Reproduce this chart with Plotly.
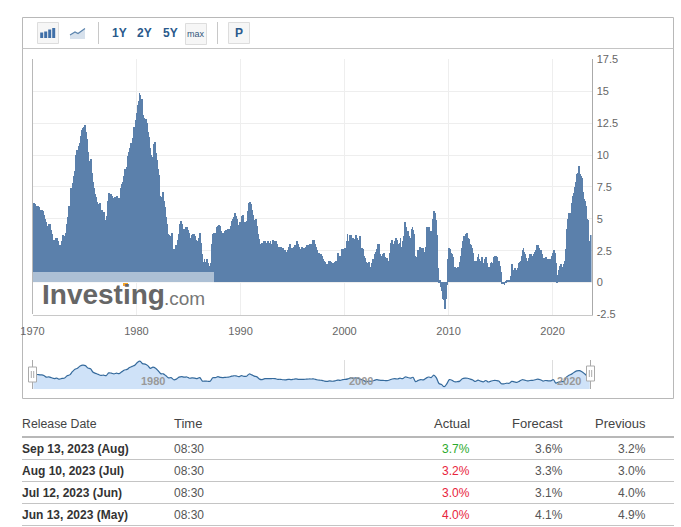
import plotly.graph_objects as go
import pandas as pd

W, H = 681, 527
FONT = "Liberation Sans"

# US CPI y/y (%), one value per monthly release
cpi_values = [
 6.2,6.1,5.8,6.0,6.0,6.0,5.9,5.4,5.7,5.7,5.6,5.6,
 5.3,5.0,4.7,4.2,4.4,4.6,4.4,4.6,4.1,3.8,3.3,3.3,
 3.3,3.5,3.5,3.5,3.2,2.7,2.9,2.9,3.2,3.4,3.7,3.4,
 3.6,3.9,4.6,5.1,5.5,6.0,5.7,7.4,7.4,7.8,8.3,8.7,
 9.4,10.0,10.4,10.1,10.7,10.9,11.5,10.9,11.9,12.1,12.2,12.3,
 11.8,11.2,10.3,10.2,9.5,9.4,9.7,8.6,7.9,7.4,7.4,6.9,
 6.7,6.3,6.1,6.0,6.2,6.0,5.4,5.7,5.5,5.5,4.9,4.9,
 5.2,5.9,6.4,7.0,6.7,6.9,6.8,6.6,6.6,6.4,6.7,6.7,
 6.8,6.4,6.6,6.5,7.0,7.4,7.7,7.9,8.3,8.9,8.9,9.0,
 9.3,9.9,10.2,10.5,10.9,10.9,11.3,11.8,12.2,12.1,12.7,13.3,
 13.9,14.2,14.8,14.7,14.4,14.4,13.1,12.9,12.6,12.8,12.6,12.5,
 11.8,11.4,10.5,10.0,9.8,9.6,10.8,10.8,11.0,10.1,9.6,8.9,
 8.4,7.6,6.8,6.5,6.7,7.1,6.4,5.9,5.0,5.1,4.6,3.8,
 3.7,3.5,3.6,3.9,3.5,2.6,2.5,2.6,2.9,2.9,3.3,3.8,
 4.2,4.6,4.8,4.6,4.2,4.2,4.2,4.3,4.3,4.3,4.1,3.9,
 3.5,3.5,3.7,3.7,3.8,3.8,3.6,3.3,3.1,3.2,3.5,3.8,
 3.9,3.1,2.2,1.6,1.5,1.8,1.6,1.6,1.8,1.5,1.3,1.1,
 1.5,2.1,3.0,3.8,3.9,3.7,3.9,4.3,4.4,4.5,4.5,4.4,
 4.0,3.9,3.9,3.9,3.9,4.0,4.1,4.0,4.2,4.2,4.2,4.4,
 4.7,4.8,5.0,5.1,5.4,5.2,5.0,4.7,4.3,4.5,4.7,4.6,
 5.2,5.3,5.2,4.7,4.4,4.7,4.8,5.6,6.2,6.3,6.3,6.1,
 5.7,5.3,4.9,4.9,5.0,4.7,4.4,3.8,3.4,2.9,3.0,3.1,
 2.6,2.8,3.2,3.2,3.0,3.1,3.2,3.1,3.0,3.2,3.0,2.9,
 3.3,3.2,3.1,3.2,3.2,3.0,2.8,2.8,2.7,2.8,2.7,2.7,
 2.5,2.5,2.5,2.4,2.3,2.5,2.8,2.9,3.0,2.6,2.7,2.7,
 2.8,2.9,2.9,3.1,3.2,3.0,2.8,2.6,2.5,2.8,2.6,2.5,
 2.7,2.7,2.8,2.9,2.9,2.8,3.0,2.9,3.0,3.0,3.3,3.3,
 3.0,3.0,2.8,2.5,2.2,2.3,2.2,2.2,2.2,2.1,1.8,1.7,
 1.6,1.4,1.4,1.4,1.7,1.7,1.7,1.6,1.5,1.5,1.5,1.6,
 1.7,1.6,1.7,2.3,2.1,2.0,2.1,2.3,2.6,2.6,2.6,2.7,
 2.7,3.2,3.8,3.1,3.2,3.7,3.7,3.4,3.5,3.4,3.4,3.4,
 3.7,3.5,2.9,3.3,3.6,3.2,2.7,2.7,2.6,2.1,1.9,1.6,
 1.1,1.1,1.5,1.6,1.2,1.1,1.5,1.8,1.5,2.0,2.2,2.4,
 2.6,3.0,3.0,2.2,2.1,2.1,2.1,2.2,2.3,2.0,1.8,1.9,
 1.9,1.7,1.7,2.3,3.1,3.3,3.0,2.7,2.5,3.2,3.5,3.3,
 3.0,3.0,3.1,3.5,2.8,2.5,3.2,3.6,4.7,4.3,3.5,3.4,
 4.0,3.6,3.4,3.5,4.2,4.3,4.1,3.8,2.1,1.3,2.0,2.5,
 2.1,2.4,2.8,2.6,2.7,2.7,2.4,2.0,2.8,3.5,4.3,4.1,
 4.3,4.0,4.0,3.9,4.2,5.0,5.6,5.4,4.9,3.7,1.1,0.1,
 0.0,0.2,-0.4,-0.7,-1.3,-1.4,-2.1,-1.5,-1.3,-0.2,1.8,2.7,
 2.6,2.1,2.3,2.2,2.0,1.1,1.2,1.1,1.1,1.2,1.1,1.5,
 1.6,2.1,2.7,3.2,3.6,3.6,3.6,3.8,3.9,3.5,3.4,3.0,
 2.9,2.9,2.7,2.3,1.7,1.7,1.4,1.7,2.0,2.2,1.8,1.7,
 1.6,2.0,1.5,1.1,1.4,1.8,2.0,1.5,1.2,1.0,1.2,1.5,
 1.6,1.1,1.5,2.0,2.1,2.1,2.0,1.7,1.7,1.7,1.3,0.8,
 -0.1,0.0,-0.1,-0.2,0.0,0.1,0.2,0.2,0.0,0.2,0.5,0.7,
 1.4,1.0,0.9,1.1,1.0,1.0,0.8,1.1,1.5,1.6,1.7,2.1,
 2.5,2.7,2.4,2.2,1.9,1.6,1.7,1.9,2.2,2.0,2.2,2.1,
 2.1,2.2,2.4,2.5,2.8,2.9,2.9,2.7,2.3,2.5,2.2,1.9,
 1.6,1.5,1.9,2.0,1.8,1.6,1.8,1.7,1.7,1.8,2.1,2.3,
 2.5,2.3,1.5,0.3,0.1,0.6,1.0,1.3,1.4,1.2,1.2,1.4,
 1.4,1.7,2.6,4.2,5.0,5.4,5.4,5.3,5.4,6.2,6.8,7.0,
 7.5,7.9,8.5,8.3,8.6,9.1,8.5,8.3,8.2,7.7,7.1,6.5,
 6.4,6.0,5.0,4.9,4.0,3.0,3.2,3.7,
]
dates = pd.date_range("1970-02-01", periods=len(cpi_values), freq="MS")

y_ticks = [-2.5, 0, 2.5, 5, 7.5, 10, 12.5, 15, 17.5]
y_labels = ["-2.5", "0", "2.5", "5", "7.5", "10", "12.5", "15", "17.5"]
x_ticks = ["1970-01-01", "1980-01-01", "1990-01-01", "2000-01-01", "2010-01-01", "2020-01-01"]
x_labels = ["1970", "1980", "1990", "2000", "2010", "2020"]
nav_ticks = ["2000-01-01", "2020-01-01"]
nav_labels = ["1980", "2000", "2020"]

table_headers = ["Release Date", "Time", "Actual", "Forecast", "Previous"]
release_dates = ["Sep 13, 2023 (Aug)", "Aug 10, 2023 (Jul)", "Jul 12, 2023 (Jun)", "Jun 13, 2023 (May)"]
release_times = ["08:30", "08:30", "08:30", "08:30"]
actual = ["3.7%", "3.2%", "3.0%", "4.0%"]
actual_colors = ["#2daa2d", "#e8243c", "#e8243c", "#e8243c"]
forecast = ["3.6%", "3.3%", "3.1%", "4.1%"]
previous = ["3.2%", "3.0%", "4.0%", "4.9%"]

px = lambda x: x / W
py = lambda y: 1 - y / H
shapes, annots = [], []


def rect(x0, y0, x1, y1, fill=None, line=None, lw=1, layer="above"):
    shapes.append(dict(type="rect", xref="paper", yref="paper", x0=px(x0), x1=px(x1), y0=py(y0), y1=py(y1),
                       fillcolor=fill or "rgba(0,0,0,0)", line=dict(color=line or "rgba(0,0,0,0)", width=lw if line else 0),
                       layer=layer))


def seg(x0, y0, x1, y1, color, lw=1, layer="above"):
    shapes.append(dict(type="line", xref="paper", yref="paper", x0=px(x0), x1=px(x1), y0=py(y0), y1=py(y1),
                       line=dict(color=color, width=lw), layer=layer))


def text(x, y, s, size=12, color="#333333", anchor="left", bold=False):
    annots.append(dict(xref="paper", yref="paper", x=px(x), y=py(y), text=f"<b>{s}</b>" if bold else s,
                       showarrow=False, xanchor=anchor, yanchor="middle", xshift=0, yshift=0,
                       borderpad=0, borderwidth=0,
                       font=dict(family=FONT, size=size, color=color)))


fig = go.Figure()
fig.add_trace(go.Bar(x=dates, y=cpi_values, marker=dict(color="#5b80ab", line=dict(width=0)),
                     xaxis="x", yaxis="y", showlegend=False))

nav_dates = dates[::3]
nav_values = cpi_values[::3]
nav_floor = [-3.8] * len(nav_values)
fig.add_trace(go.Scatter(x=nav_dates, y=nav_floor, mode="lines", line=dict(width=0), xaxis="x2", yaxis="y2",
                         showlegend=False))
fig.add_trace(go.Scatter(x=nav_dates, y=nav_values, mode="lines", line=dict(color="#356a9c", width=1.2, shape="spline"),
                         fill="tonexty", fillcolor="#cfe2f8", xaxis="x2", yaxis="y2", showlegend=False))

# Outer frame and toolbar
rect(22.5, 17.5, 673.5, 398.5, line="#b8b8b8", layer="below")
seg(22.5, 48.5, 673.5, 48.5, "#c4c4c4", layer="below")
seg(32.5, 59, 32.5, 314, "#b8b8b8")

BTN_BG, BTN_BD = "#f6f6f6", "#dddddd"
rect(37.5, 22.5, 58.5, 43.5, BTN_BG, BTN_BD)
for x0, y0 in [(40.2, 32.5), (44.2, 31.5), (48.2, 29.5), (52.2, 28)]:
    rect(x0, y0, x0 + 3, 38, "#3f6fa8")
shapes.append(dict(type="path", xref="paper", yref="paper",
                   path=f"M {px(70)} {py(39)} L {px(70)} {py(35)} L {px(75)} {py(32)} L {px(78)} {py(33.5)} L {px(85)} {py(28.5)} L {px(85)} {py(39)} Z",
                   fillcolor="#d7e1ec", line=dict(width=0), layer="above"))
shapes.append(dict(type="path", xref="paper", yref="paper",
                   path=f"M {px(70)} {py(35)} L {px(75)} {py(32)} L {px(78)} {py(33.5)} L {px(85)} {py(28.5)}",
                   line=dict(color="#5b84ad", width=1.2), layer="above"))
seg(98.5, 22, 98.5, 44, "#c8c8c8")
text(119.5, 33, "1Y", 12, "#2a5a8c", "center", True)
text(144.5, 33, "2Y", 12, "#2a5a8c", "center", True)
text(170, 33, "5Y", 12, "#2a5a8c", "center", True)
rect(185.5, 23.5, 206.5, 44.5, BTN_BG, BTN_BD)
text(195.5, 33.5, "max", 9, "#33577d", "center")
seg(217.5, 22, 217.5, 44, "#c8c8c8")
rect(228.5, 22.5, 249.5, 43.5, BTN_BG, BTN_BD)
text(238.5, 33, "P", 12, "#2a5a8c", "center", True)

# Watermark
rect(33, 272, 214, 283, "rgba(255,255,255,0.5)")
text(42, 294, "<b>Investing</b>", 28, "#666666")
text(163.5, 298, ".com", 19, "#777777")
rect(123, 283, 128, 286, "#f5a623")

# Navigator handles and labels
for hx0, hx1, hy0 in [(28.5, 36.5, 367), (586.5, 594.5, 366)]:
    mid = (hx0 + hx1) / 2
    seg(mid, 360, mid, 389, "#aaaaaa")
    rect(hx0, hy0, hx1, hy0 + 15, "#ffffff", "#aaaaaa")
    seg(mid - 1.2, hy0 + 4, mid - 1.2, hy0 + 11, "#aaaaaa")
    seg(mid + 1.2, hy0 + 4, mid + 1.2, hy0 + 11, "#aaaaaa")
for lx, s in zip([152.5, 361, 569], nav_labels):
    text(lx, 381, s, 11, "#999999", "center", True)

# Table
for x, s, a, size in zip([22, 174, 470, 563, 646], table_headers, ["left", "left", "right", "right", "right"],
                         [12.3, 13, 13, 13, 13]):
    text(x, 423.5, s, size, "#444444", a)
seg(22, 437, 674, 437, "#b8b8b8", 2)
row_y = [449, 471, 493, 515]
for i, y in enumerate(row_y):
    text(22, y, release_dates[i], 12, "#333333", "left", True)
    text(174, y, release_times[i], 12, "#555555")
    text(470, y, actual[i], 12, actual_colors[i], "right")
    text(563, y, forecast[i], 12, "#555555", "right")
    text(646, y, previous[i], 12, "#555555", "right")
    seg(22, y + 10.5, 674, y + 10.5, "#c4c4c4")

fig.update_layout(
    width=W, height=H, autosize=False, margin=dict(l=0, r=0, t=0, b=0, pad=0, autoexpand=False),
    paper_bgcolor="#ffffff", plot_bgcolor="#ffffff", bargap=0, shapes=shapes, annotations=annots,
    font=dict(family=FONT, size=11, color="#666666"),
    xaxis=dict(domain=[px(32.5), px(591.5)], anchor="y", type="date", range=["1970-01-01", "2023-10-01"],
               tickvals=x_ticks, ticktext=x_labels, showgrid=True, gridcolor="#eeeeee", gridwidth=1,
               showline=True, linecolor="#c8c8c8", ticks="outside", ticklen=6, tickcolor="rgba(0,0,0,0)",
               tickfont=dict(family=FONT, size=11, color="#666666"), zeroline=False),
    yaxis=dict(domain=[py(314.5), py(59.3)], anchor="x", side="right", range=[-2.5, 17.5],
               tickvals=y_ticks, ticktext=y_labels, showgrid=True, gridcolor="#eeeeee", gridwidth=1,
               showline=True, linecolor="#aaaaaa", ticks="outside", ticklen=2, tickcolor="rgba(0,0,0,0)",
               tickfont=dict(family=FONT, size=11, color="#666666"), zeroline=False),
    xaxis2=dict(domain=[px(32.5), px(591.5)], anchor="y2", type="date", range=["1970-01-01", "2023-10-01"],
                tickvals=nav_ticks, showticklabels=False, showgrid=True, gridcolor="#dddddd", zeroline=False, showline=False),
    yaxis2=dict(domain=[py(389.3), py(360)], anchor="x2", range=[-3.8, 15.5], visible=False, showgrid=False, zeroline=False),
)
fig.write_html("out.html", post_script="document.body.style.margin='0';document.documentElement.style.overflow='hidden';",
               config={"displayModeBar": False})
